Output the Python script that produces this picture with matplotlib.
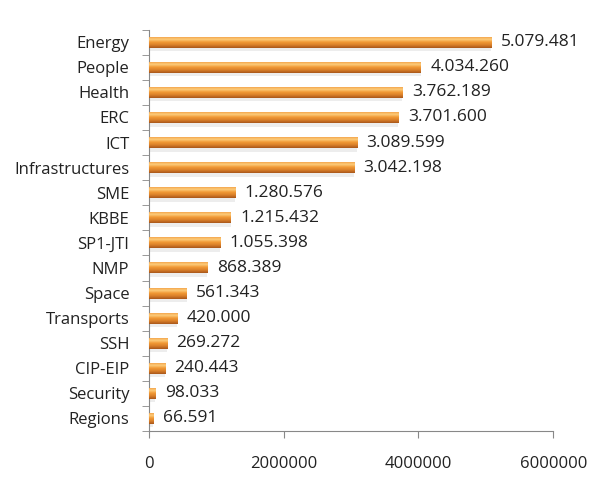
import matplotlib
matplotlib.use("Agg")
import matplotlib.pyplot as plt
import numpy as np
from matplotlib.colors import LinearSegmentedColormap
from matplotlib.patches import Rectangle

categories = ["Energy", "People", "Health", "ERC", "ICT", "Infrastructures", "SME", "KBBE",
              "SP1-JTI", "NMP", "Space", "Transports", "SSH", "CIP-EIP", "Security", "Regions"]
values = [5079481, 4034260, 3762189, 3701600, 3089599, 3042198, 1280576, 1215432,
          1055398, 868389, 561343, 420000, 269272, 240443, 98033, 66591]
xticks = [0, 2000000, 4000000, 6000000]

plt.rcParams['font.family'] = ['Open Sans', 'DejaVu Sans']

fig = plt.figure(figsize=(6, 4.87), dpi=100)
ax = fig.add_axes([0.248, 0.115, 0.674, 0.824])

n = len(categories)
ypos = np.arange(n)[::-1]
h = 0.44

cmap = LinearSegmentedColormap.from_list("bar", [
    (0.0, "#A9561A"), (0.25, "#D9802A"), (0.5, "#F29A35"), (0.72, "#FCCB7A"), (0.86, "#F8B45C"), (1.0, "#E8903A")])
grad = np.linspace(0, 1, 64).reshape(-1, 1)

ax.set_xlim(0, 6000000)
ax.set_ylim(-0.5, n - 0.5)

for y, v, c in zip(ypos, values, categories):
    # shadow
    ax.add_patch(Rectangle((0, y - h / 2 - 0.14), v, 0.16, facecolor="#000000", alpha=0.07,
                           edgecolor="none", zorder=1))
    bars = ax.barh(y, v, height=h, color="none", edgecolor="none", zorder=2)
    rect = bars[0]
    im = ax.imshow(grad, cmap=cmap, aspect="auto", origin="lower",
                   extent=[0, v, y - h / 2, y + h / 2], zorder=3)
    im.set_clip_path(rect)
    ax.text(v + 140000, y, f"{v:,}".replace(",", "."), va="center", ha="left",
            fontsize=12.5, color="#222222", zorder=4)

ax.set_xlim(0, 6000000)
ax.set_ylim(-0.5, n - 0.5)
ax.set_yticks(ypos)
ax.set_yticklabels(categories, fontsize=12, color="#222222")
ax.tick_params(axis="y", length=0, pad=14)
ax.set_yticks(np.arange(-0.5, n, 1), minor=True)
ax.tick_params(axis="y", which="minor", length=5, color="#888888", direction="out")
ax.set_xticks(xticks)
ax.set_xticklabels([str(t) for t in xticks], fontsize=12, color="#222222")
ax.tick_params(axis="x", length=5, color="#888888", direction="out", pad=13)

for s in ["top", "right"]:
    ax.spines[s].set_visible(False)
for s in ["left", "bottom"]:
    ax.spines[s].set_color("#888888")

fig.savefig("out.png", dpi=100)
